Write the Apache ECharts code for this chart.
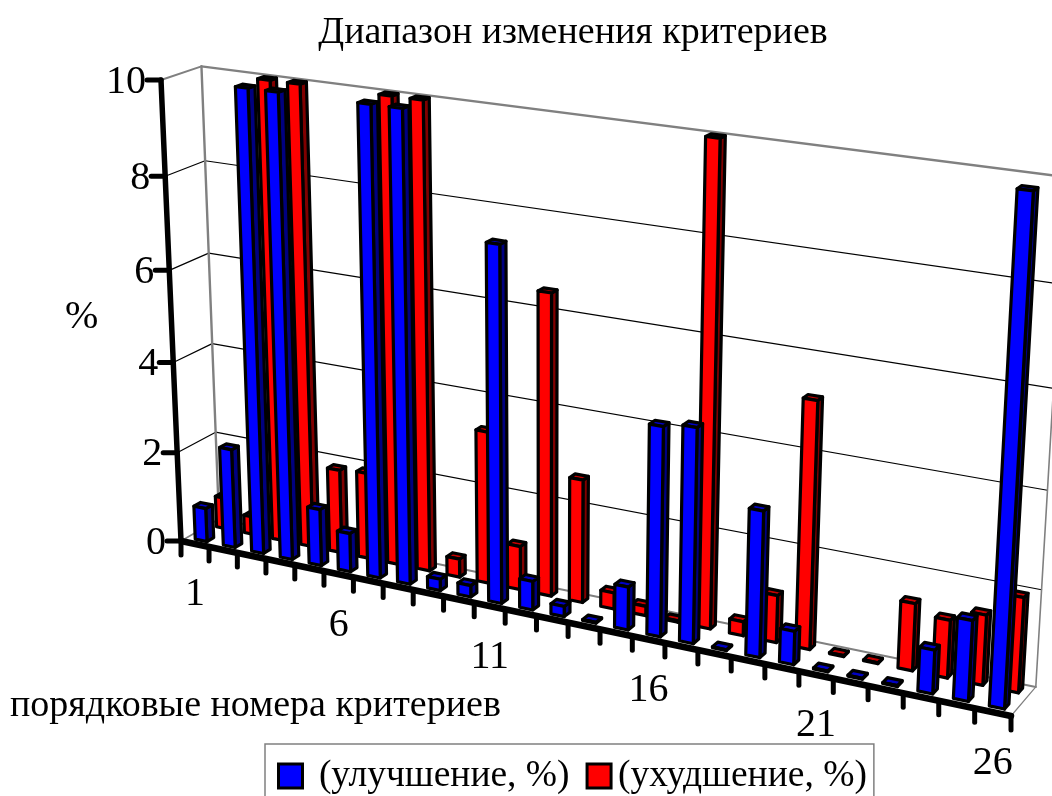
<!DOCTYPE html>
<html><head><meta charset="utf-8">
<style>html,body{margin:0;padding:0;background:#fff;overflow:hidden}#c{width:1052px;height:796px}</style>
<script src="https://cdn.jsdelivr.net/npm/echarts@6/dist/echarts.min.js"></script>
</head><body><div id="c"></div>
<script>
const categories = ['1','2','3','4','5','6','7','8','9','10','11','12','13','14','15','16','17','18','19','20','21','22','23','24','25','26'];
const improvement = [0.75,2.2,10,10,1.25,0.85,10,10,0.25,0.25,7.55,0.62,0.22,0.02,0.92,4.4,4.5,0.02,3.05,0.7,0.02,0.02,0.02,0.9,1.65,10];
const worsening   = [0.7,0.4,10,10,1.85,1.9,10,10,0.4,3.3,0.95,6.45,2.65,0.35,0.2,0.03,10,0.3,1.0,5.15,0.02,0.02,1.4,1.2,1.45,1.95];
const valueTicks = [0,2,4,6,8,10];
const shownCategories = ['1','6','11','16','21','26'];
const seriesNames = ['(улучшение, %)','(ухудшение, %)'];

const FONT = '"Liberation Serif","Times New Roman",serif';
const W = 1052, H = 796;
// perspective box: origin and the three axis ends, plus their vanishing terms
const O=[181,541], X=[1011,716], Y=[161,80], Z=[219,519];
const pg=-0.126, ph=-0.052, pi=0.02;
function proj(u,v,d){
  const w=1+pg*u+ph*v+pi*d;
  const f=k=>(O[k]+u*((1+pg)*X[k]-O[k])+v*((1+ph)*Y[k]-O[k])+d*((1+pi)*Z[k]-O[k]))/w;
  return [f(0),f(1)];
}
const N=categories.length;
const BAND=0.42, DEPTH=[[0.16,0.335],[0.72,0.885]];
const FACE=[['#0000ff','#000080','#0000c4'],['#ff0000','#800000','#c40000']];

function barRender(row){
  return function(params,api){
    const c=api.value(0), val=api.value(1);
    const base=api.coord([c,0]), top=api.coord([c,val]);
    const band=api.size([1,0])[0];
    const um=base[0]/W, hw=BAND*band/W/2, v=1-top[1]/H;
    const [d0,d1]=DEPTH[row], u0=um-hw, u1=um+hw;
    const st=(fill)=>({fill,stroke:'#000',lineWidth:3.2,lineJoin:'round'});
    const poly=(pts,fill)=>({type:'polygon',shape:{points:pts},style:st(fill)});
    return {type:'group',children:[
      poly([proj(u1,0,d0),proj(u1,0,d1),proj(u1,v,d1),proj(u1,v,d0)],FACE[row][1]),
      poly([proj(u0,v,d0),proj(u1,v,d0),proj(u1,v,d1),proj(u0,v,d1)],FACE[row][2]),
      poly([proj(u0,0,d0),proj(u1,0,d0),proj(u1,v,d0),proj(u0,v,d0)],FACE[row][0])
    ]};
  };
}
function frameRender(params,api){
  const line=(a,b,color,lw)=>({type:'line',shape:{x1:a[0],y1:a[1],x2:b[0],y2:b[1]},style:{stroke:color,lineWidth:lw,lineCap:'round'}});
  const ch=[];
  valueTicks.forEach(t=>{
    const v=1-api.coord([0,t])[1]/H;
    if(t>0&&t<10){
      ch.push(line(proj(0,v,0),proj(0,v,1),'#000',1.2));
      ch.push(line(proj(0,v,1),proj(1,v,1),'#000',1.2));
    }
  });
  const g='#808080';
  ch.push(line(proj(0,1,0),proj(0,1,1),g,2));
  ch.push(line(proj(0,1,1),proj(1,1,1),g,2.4));
  ch.push(line(proj(0,0,1),proj(0,1,1),g,2.4));
  ch.push(line(proj(1,0,1),proj(1,1,1),g,1.6));
  ch.push(line(proj(0,0,0),proj(0,0,1),g,1.6));
  ch.push(line(proj(0,0,1),proj(1,0,1),g,2));
  ch.push(line(proj(1,0,0),proj(1,0,1),g,1.2));
  return {type:'group',children:ch};
}
function axisRender(params,api){
  const line=(a,b,lw)=>({type:'line',shape:{x1:a[0],y1:a[1],x2:b[0],y2:b[1]},style:{stroke:'#000',lineWidth:lw,lineCap:'round'}});
  const txt=(s,x,y,al)=>({type:'text',style:{text:s,x,y,textAlign:al,textVerticalAlign:'middle',fontFamily:FONT,fontSize:40,fill:'#000'}});
  const ch=[];
  ch.push(line(proj(0,0,0),proj(0,1,0),5.5));
  ch.push(line(proj(0,0,0),proj(1,0,0),6.5));
  const band=api.size([1,0])[0];
  categories.forEach((c,i)=>{
    const cx=api.coord([i,0])[0];
    const u=(cx-band/2)/W, a=proj(u,0,0);
    ch.push(line(a,[a[0],a[1]+14],5));
    if(i===N-1){const e=proj(1,0,0);ch.push(line(e,[e[0],e[1]+14],5));}
    if(shownCategories.indexOf(c)>=0){
      const m=proj(cx/W,0,0);
      ch.push(txt(c,m[0],m[1]+51,'center'));
    }
  });
  valueTicks.forEach(t=>{
    const v=1-api.coord([0,t])[1]/H, a=proj(0,v,0);
    ch.push(line(a,[a[0]-14,a[1]],5));
    ch.push(txt(String(t),a[0]-15,a[1]+2,'right'));
  });
  return {type:'group',children:ch};
}
const chart=echarts.init(document.getElementById('c'),null,{renderer:'canvas'});
const zipped=a=>a.map((v,i)=>[i,v]);
const bar=(name,data,row,z,color)=>({type:'custom',name,coordinateSystem:'cartesian2d',renderItem:barRender(row),
  data:zipped(data),encode:{x:0,y:1},z,silent:true,itemStyle:{color},animation:false,clip:false});
chart.setOption({
  animation:false,backgroundColor:'#fff',
  title:{text:'Диапазон изменения критериев',left:568,top:9,textAlign:'center',
    textStyle:{fontFamily:FONT,fontSize:38,fontWeight:'normal',color:'#000'}},
  grid:{left:0,right:0,top:0,bottom:0,containLabel:false},
  xAxis:{type:'category',data:categories,show:false},
  yAxis:{type:'value',min:0,max:10,interval:2,show:false},
  legend:{data:[seriesNames[0],seriesNames[1]],orient:'horizontal',left:265,top:744,
    padding:[13,7,20,12],itemWidth:24,itemHeight:24,itemGap:16,backgroundColor:'#fff',
    borderColor:'#808080',borderWidth:1.5,
    itemStyle:{borderColor:'#000',borderWidth:3},icon:'rect',selectedMode:false,
    formatter:n=>n===seriesNames[0]?' '+n:n,
    textStyle:{fontFamily:FONT,fontSize:37.5,color:'#000',padding:[0,0,0,2]}},
  graphic:[
    {type:'text',left:65,top:297,style:{text:'%',fontFamily:FONT,fontSize:40,fill:'#000'}},
    {type:'text',left:10,top:687,style:{text:'порядковые номера критериев',fontFamily:FONT,fontSize:38,fill:'#000'}}
  ],
  series:[
    {type:'custom',name:'frame',coordinateSystem:'cartesian2d',renderItem:frameRender,data:[[0,0]],encode:{x:0,y:1},z:1,silent:true},
    bar(seriesNames[1],worsening,1,2,'#ff0000'),
    bar(seriesNames[0],improvement,0,3,'#0000ff'),
    {type:'custom',name:'axes',coordinateSystem:'cartesian2d',renderItem:axisRender,data:[[0,0]],encode:{x:0,y:1},z:4,silent:true}
  ]
});
</script></body></html>
